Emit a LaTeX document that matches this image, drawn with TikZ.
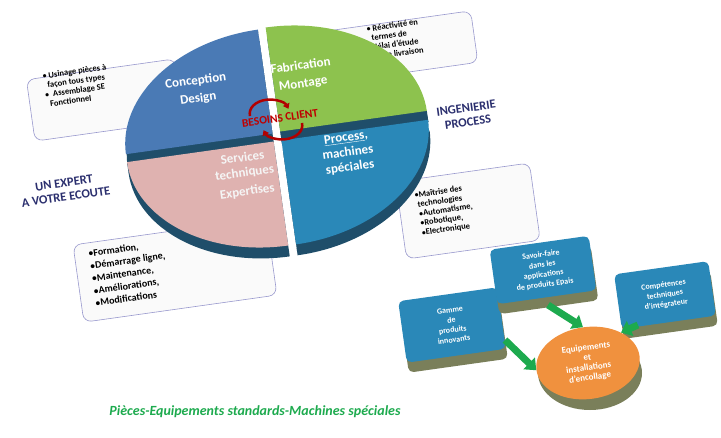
\documentclass[tikz,border=0pt]{standalone}
\usepackage{fontspec}
\setmainfont{Carlito}
\usetikzlibrary{arrows.meta,shapes.geometric}
\definecolor{cblue}{HTML}{4A7AB5}
\definecolor{cgreen}{HTML}{8DC24E}
\definecolor{cpink}{HTML}{DFB2B0}
\definecolor{cproc}{HTML}{2A88B8}
\definecolor{cdark}{HTML}{1F4E6A}
\definecolor{cbox}{HTML}{2A88B8}
\definecolor{colive}{HTML}{7A7F5A}
\definecolor{corange}{HTML}{F0913E}
\definecolor{carrow}{HTML}{1DAA4E}
\definecolor{cnavy}{HTML}{2B2F6E}
\tikzset{
 callout/.style={draw=blue!35!gray!60, fill=gray!4, rounded corners=8pt, line width=0.6pt, rotate=8},
 ctext/.style={font=\bfseries\fontsize{8.5}{9.5}\selectfont, align=left, rotate=8, anchor=north west},
 qtext/.style={font=\bfseries\fontsize{13}{15}\selectfont, text=white, align=center, rotate=8},
 side/.style={font=\bfseries\fontsize{12.5}{14}\selectfont, text=cnavy, align=center, rotate=8},
 bbox/.style={fill=cbox, rounded corners=5pt, rotate=8, inner sep=1pt,
   font=\bfseries\fontsize{8}{10}\selectfont, text=white, align=center},
 bbase/.style={fill=colive, rounded corners=5pt, rotate=8},
 garrow/.style={-{Triangle[length=10pt,width=16pt]}, line width=7pt, draw=carrow},
 redarc/.style={red!70!black, line width=2.5pt, -{Triangle[length=5pt,width=7pt]}},
}
\begin{document}
\begin{tikzpicture}[x=1pt,y=1pt]
\useasboundingbox (0,0) rectangle (721,437);
% callouts
\node[callout, minimum width=150pt, minimum height=62pt] (cl) at (105,337) {};
\node[ctext] (tl) at (38,367) {$\bullet$ Usinage pièces à\\ \ \ façon tous types\\$\bullet$ \ Assemblage SE\\ \ \ Fonctionnel};
\node[callout, minimum width=150pt, minimum height=52pt] (cr) at (400,390) {};
\node[ctext] (tr) at (362,414) {$\bullet$ Réactivité en\\ \ \ termes de\\ \ \ délai d'étude\\ \ \ et de livraison};
\node[callout, minimum width=135pt, minimum height=78pt] (cr2) at (468,226) {};
\node[ctext] (tr2) at (410,248) {$\bullet$Maîtrise des\\ \ technologies\\ \ $\bullet$Automatisme,\\ \ $\bullet$Robotique,\\ \ $\bullet$Electronique};
\node[callout, minimum width=195pt, minimum height=78pt] (cl2) at (175,167) {};
\node[ctext, font=\bfseries\fontsize{10}{12.5}\selectfont] (tl2) at (84,190) {$\bullet$Formation,\\$\bullet$Démarrage ligne,\\ $\bullet$Maintenance,\\ $\bullet$Améliorations,\\ $\bullet$Modifications};
% pie
\begin{scope}[shift={(277,300)}, rotate=8]
 \foreach \a/\b/\c/\dx/\dy in {90/180/cblue/-4/4, 0/90/cgreen/4/5, 180/270/cpink/-4/-4, 270/360/cproc/4/-4}{
   \fill[cdark] (\dx,\dy-11) -- ({\dx+148*cos(\a)},{\dy-11+105*sin(\a)}) arc[start angle=\a,end angle=\b,x radius=148,y radius=105] -- cycle;
   \fill[cdark] (\dx,\dy) -- ({\dx+148*cos(\a)},{\dy+105*sin(\a)}) -- ({\dx+148*cos(\a)},{\dy-11+105*sin(\a)}) -- (\dx,\dy-11) -- cycle;
   \fill[\c] (\dx,\dy) -- ({\dx+148*cos(\a)},{\dy+105*sin(\a)}) arc[start angle=\a,end angle=\b,x radius=148,y radius=105] -- cycle;
 }
\end{scope}
\draw[redarc] (250,321) arc[start angle=190,end angle=20,x radius=20,y radius=14];
\draw[redarc] (302,314) arc[start angle=10,end angle=-160,x radius=20,y radius=14];
\node[qtext] (q1) at (197,347) {Conception\\[3pt]Design};
\node[qtext] (q2) at (302,362) {Fabrication\\[3pt]Montage};
\node[qtext, text=white!92!gray] (q3) at (245,262) {Services\\techniques\\[4pt]Expertises};
\node[qtext] (q4) at (348,284) {\underline{Process},\\machines\\spéciales};
\node[font=\bfseries\fontsize{11.5}{12}\selectfont, text=red!75!black, rotate=8] (bc) at (280,319) {BESOINS CLIENT};
\node[side] (ing) at (467,322) {INGENIERIE\\PROCESS};
\node[side] (exp) at (65,247) {UN EXPERT\\A VOTRE ECOUTE};
% bottom right
\node[bbase, minimum width=100pt, minimum height=62pt] (b1s) at (454,102) {};
\node[bbox, minimum width=100pt, minimum height=62pt] (b1) at (452,112) {Gamme\\de\\produits\\innovants};
\node[bbase, minimum width=100pt, minimum height=55pt] (b2s) at (545,157) {};
\node[bbox, minimum width=100pt, minimum height=55pt] (b2) at (543,167) {Savoir-faire\\dans les\\applications\\de produits Epais};
\node[bbase, minimum width=95pt, minimum height=55pt] (b3s) at (667,132) {};
\node[bbox, minimum width=95pt, minimum height=55pt] (b3) at (665,142) {Compétences\\techniques\\d'intégrateur};
\fill[colive] (590,64) ellipse[x radius=52, y radius=37];
\node[ellipse, fill=corange, minimum width=104pt, minimum height=72pt, inner sep=0pt, font=\bfseries\fontsize{9}{10}\selectfont, text=white, align=center, rotate=8] (eq) at (588,74) {Equipements\\et\\installations\\d'encollage};
\coordinate (a1) at (505,97);
\coordinate (a2) at (548,132);
\coordinate (a3) at (638,112);
\draw[garrow] (a1) -- (eq.west);
\draw[garrow] (a2) -- (eq.north);
\draw[garrow] (a3) -- (eq.north east);
\node[font=\bfseries\itshape\fontsize{14}{16}\selectfont, text=carrow] (bot) at (255,25) {Pièces-Equipements standards-Machines spéciales};
\end{tikzpicture}
\end{document}
